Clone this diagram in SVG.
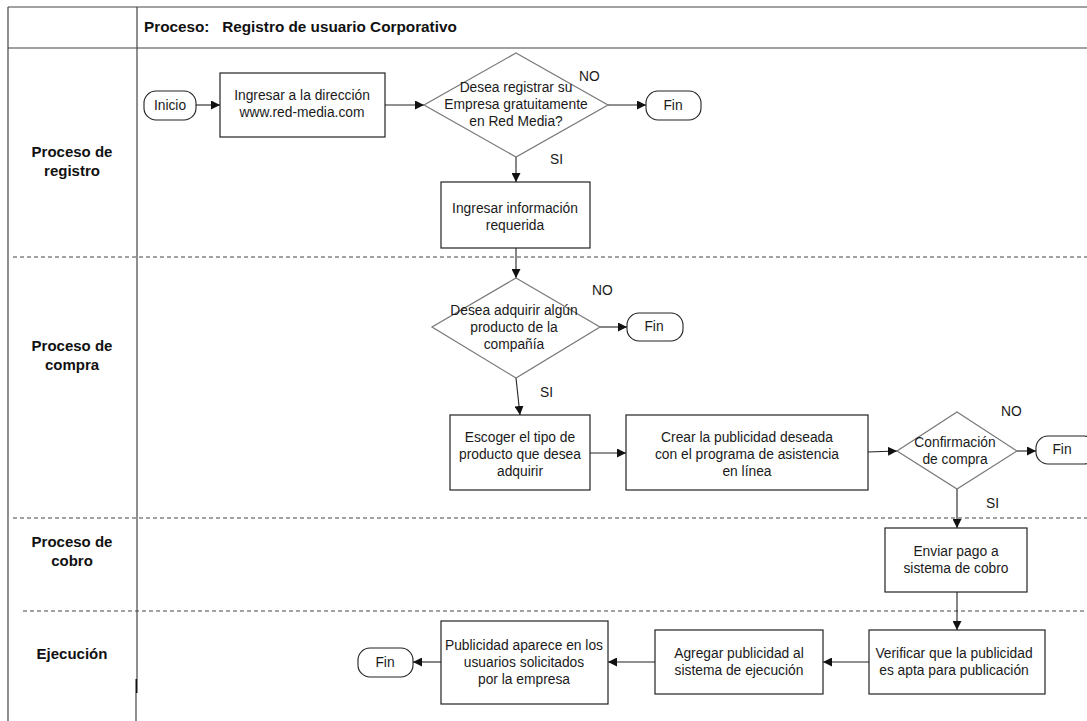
<svg xmlns="http://www.w3.org/2000/svg" width="1087" height="721" viewBox="0 0 1087 721">
<style>
.frame{stroke:#444;stroke-width:1.2;fill:none}
.dash{stroke:#444;stroke-width:1;stroke-dasharray:4,3;fill:none}
.box{fill:#fff;stroke:#222;stroke-width:1.2}
.dia{fill:#fff;stroke:#777;stroke-width:1.2}
.pill{fill:#fff;stroke:#222;stroke-width:1.1}
.t{font-family:"Liberation Sans",Arial,sans-serif;font-size:13.8px;fill:#1a1a1a;text-anchor:middle}
.lane{font-family:"Liberation Sans",Arial,sans-serif;font-size:15px;font-weight:bold;fill:#111;text-anchor:middle}
.hd{font-family:"Liberation Sans",Arial,sans-serif;font-size:15.3px;font-weight:bold;fill:#111}
.lbl{font-family:"Liberation Sans",Arial,sans-serif;font-size:13.8px;fill:#1a1a1a}
.c{stroke:#222;stroke-width:1.1;fill:none;marker-end:url(#ah)}
</style>
<defs>
<marker id="ah" viewBox="0 0 10 10" refX="10" refY="5" markerWidth="9" markerHeight="9" markerUnits="userSpaceOnUse" orient="auto">
<path d="M0,0 L10,5 L0,10 z" fill="#111"/>
</marker>
</defs>
<rect width="1087" height="721" fill="#fff"/>
<g id="frame">
<line class="frame" x1="8" y1="7" x2="1087" y2="7"/>
<line class="frame" x1="8" y1="48" x2="1087" y2="48"/>
<line class="frame" x1="8" y1="7" x2="8" y2="721"/>
<line class="frame" x1="137" y1="7" x2="137" y2="679"/>
<line stroke="#111" stroke-width="2" x1="136.5" y1="679" x2="136.5" y2="693"/>
<line class="frame" x1="136" y1="693" x2="136" y2="721"/>
<line class="dash" x1="13" y1="257" x2="1087" y2="257"/>
<line class="dash" x1="13" y1="518" x2="1087" y2="518"/>
<line class="dash" x1="23" y1="611" x2="1087" y2="611"/>
<text class="hd" x="144" y="32" xml:space="preserve">Proceso:   Registro de usuario Corporativo</text>
<text class="lane" x="72" y="157">Proceso de</text>
<text class="lane" x="72" y="176">registro</text>
<text class="lane" x="72" y="351">Proceso de</text>
<text class="lane" x="72" y="370">compra</text>
<text class="lane" x="72" y="547">Proceso de</text>
<text class="lane" x="72" y="566">cobro</text>
<text class="lane" x="72" y="659">Ejecución</text>
</g>
<g id="connectors">
<line class="c" x1="196" y1="105" x2="220" y2="105"/>
<line class="c" x1="385" y1="105" x2="424" y2="105"/>
<line class="c" x1="608" y1="105" x2="646" y2="105"/>
<line class="c" x1="516" y1="157" x2="516" y2="182"/>
<line class="c" x1="516" y1="248" x2="516" y2="278"/>
<line class="c" x1="600" y1="327" x2="627" y2="327"/>
<line class="c" x1="516" y1="378" x2="520" y2="415"/>
<line class="c" x1="590" y1="453" x2="626" y2="453"/>
<line class="c" x1="868" y1="452" x2="897" y2="451"/>
<line class="c" x1="1017" y1="451" x2="1036" y2="451"/>
<line class="c" x1="957" y1="489" x2="957" y2="528"/>
<line class="c" x1="957" y1="592" x2="957" y2="630"/>
<line class="c" x1="869" y1="662" x2="823" y2="662"/>
<line class="c" x1="655" y1="662" x2="608" y2="662"/>
<line class="c" x1="441" y1="662" x2="413" y2="662"/>
<text class="lbl" x="579" y="81">NO</text>
<text class="lbl" x="550" y="164">SI</text>
<text class="lbl" x="592" y="295">NO</text>
<text class="lbl" x="540" y="397">SI</text>
<text class="lbl" x="1001" y="416">NO</text>
<text class="lbl" x="986" y="508">SI</text>
</g>
<g id="inicio">
<rect class="pill" x="144" y="91" width="52" height="29" rx="12"/>
<text class="t" x="170" y="110">Inicio</text>
</g>
<g id="ingresar-direccion">
<rect class="box" x="220" y="73" width="165" height="64"/>
<text class="t" x="302" y="100">Ingresar a la dirección</text>
<text class="t" x="302" y="117">www.red-media.com</text>
</g>
<g id="desea-registrar">
<polygon class="dia" points="516,53 608,105 516,157 424,105"/>
<text class="t" x="516" y="92">Desea registrar su</text>
<text class="t" x="516" y="109">Empresa gratuitamente</text>
<text class="t" x="516" y="126">en Red Media?</text>
</g>
<g id="fin1">
<rect class="pill" x="646" y="91" width="55" height="29" rx="12"/>
<text class="t" x="673" y="110">Fin</text>
</g>
<g id="ingresar-info">
<rect class="box" x="441" y="182" width="149" height="66"/>
<text class="t" x="515" y="213">Ingresar información</text>
<text class="t" x="515" y="230">requerida</text>
</g>
<g id="desea-adquirir">
<polygon class="dia" points="516,278 600,327 516,378 432,327"/>
<text class="t" x="514" y="315">Desea adquirir algún</text>
<text class="t" x="514" y="332">producto de la</text>
<text class="t" x="514" y="349">compañía</text>
</g>
<g id="fin2">
<rect class="pill" x="627" y="313" width="56" height="28" rx="12"/>
<text class="t" x="654" y="331">Fin</text>
</g>
<g id="escoger-tipo">
<rect class="box" x="450" y="415" width="140" height="75"/>
<text class="t" x="520" y="442">Escoger el tipo de</text>
<text class="t" x="520" y="459">producto que desea</text>
<text class="t" x="520" y="476">adquirir</text>
</g>
<g id="crear-publicidad">
<rect class="box" x="626" y="415" width="242" height="75"/>
<text class="t" x="747" y="442">Crear la publicidad deseada</text>
<text class="t" x="747" y="459">con el programa de asistencia</text>
<text class="t" x="747" y="476">en línea</text>
</g>
<g id="confirmacion">
<polygon class="dia" points="957,412 1017,451 957,489 897,451"/>
<text class="t" x="955" y="447">Confirmación</text>
<text class="t" x="955" y="464">de compra</text>
</g>
<g id="fin3">
<rect class="pill" x="1036" y="436" width="60" height="28" rx="12"/>
<text class="t" x="1062" y="454">Fin</text>
</g>
<g id="enviar-pago">
<rect class="box" x="885" y="528" width="142" height="64"/>
<text class="t" x="956" y="556">Enviar pago a</text>
<text class="t" x="956" y="573">sistema de cobro</text>
</g>
<g id="verificar">
<rect class="box" x="869" y="630" width="176" height="64"/>
<text class="t" x="954" y="658">Verificar que la publicidad</text>
<text class="t" x="954" y="675">es apta para publicación</text>
</g>
<g id="agregar">
<rect class="box" x="655" y="630" width="168" height="64"/>
<text class="t" x="739" y="658">Agregar publicidad al</text>
<text class="t" x="739" y="675">sistema de ejecución</text>
</g>
<g id="publicidad-aparece">
<rect class="box" x="441" y="621" width="167" height="83"/>
<text class="t" x="524" y="650">Publicidad aparece en los</text>
<text class="t" x="524" y="667">usuarios solicitados</text>
<text class="t" x="524" y="684">por la empresa</text>
</g>
<g id="fin4">
<rect class="pill" x="358" y="648" width="55" height="29" rx="12"/>
<text class="t" x="385" y="667">Fin</text>
</g>
</svg>
